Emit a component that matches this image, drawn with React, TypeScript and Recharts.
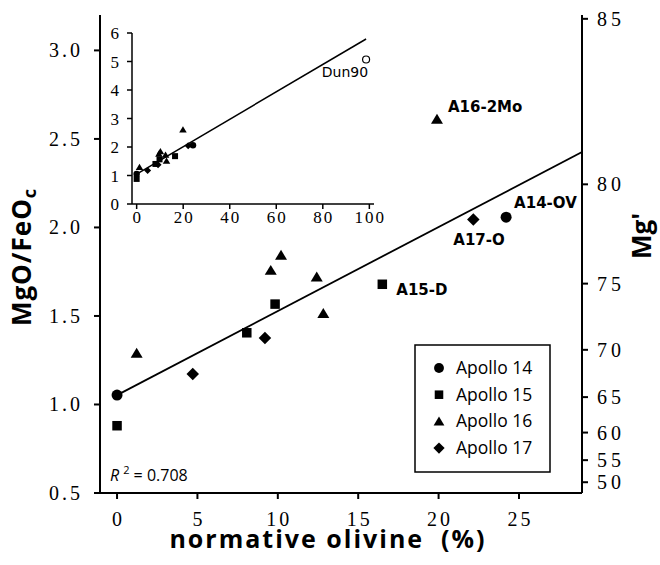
import { ScatterChart, Scatter, XAxis, YAxis } from 'recharts'

// normative olivine (%) vs MgO/FeOc
const apollo14 = [
  { x: 0, y: 1.053 },
  { x: 24.2, y: 2.058, name: 'A14-OV' },
]
const apollo15 = [
  { x: 0, y: 0.88 },
  { x: 8.07, y: 1.405 },
  { x: 9.83, y: 1.567 },
  { x: 16.5, y: 1.679, name: 'A15-D' },
]
const apollo16 = [
  { x: 1.22, y: 1.29 },
  { x: 9.56, y: 1.758 },
  { x: 10.2, y: 1.843 },
  { x: 12.42, y: 1.721 },
  { x: 12.83, y: 1.514 },
  { x: 19.9, y: 2.611, name: 'A16-2Mo' },
]
const apollo17 = [
  { x: 4.71, y: 1.172 },
  { x: 9.2, y: 1.376 },
  { x: 22.16, y: 2.045, name: 'A17-O' },
]
const dunite = [{ x: 98.6, y: 5.07, name: 'Dun90' }]

const fitMain = [
  { x: 0, y: 1.053 },
  { x: 28.92, y: 2.426 },
]
const fitInset = [
  { x: 0, y: 1.05 },
  { x: 98.6, y: 5.79 },
]

const xTicks = [0, 5, 10, 15, 20, 25]
const yTicks = [0.5, 1.0, 1.5, 2.0, 2.5, 3.0]
const mgTicks = [50, 55, 60, 65, 70, 75, 80, 85]
const insetXTicks = [0, 20, 40, 60, 80, 100]
const insetYTicks = [0, 1, 2, 3, 4, 5, 6]

const legendItems = [
  { kind: 'circle', label: 'Apollo 14' },
  { kind: 'square', label: 'Apollo 15' },
  { kind: 'triangle', label: 'Apollo 16' },
  { kind: 'diamond', label: 'Apollo 17' },
]

// Mg' = molar 100*Mg/(Mg+Fe); MgO/FeO ratio that gives it
const MOLAR = 40.3 / 71.85
const mgToRatio = (m: number) => (m / (100 - m)) * MOLAR
const ratioToMg = (r: number) => Math.round((100 * r) / (r + MOLAR))

const black = '#000'
const serif = 'Liberation Serif'
const sansBold = 'DejaVu Sans'
const titleFont = 'Open Sans'

const labelOffset: Record<string, [number, number, string]> = {
  'A16-2Mo': [11, -7, 'start'],
  'A14-OV': [8, -9, 'start'],
  'A17-O': [-20, 26, 'start'],
  'A15-D': [14, 11, 'start'],
  Dun90: [2, 17, 'end'],
}

function marker(kind: string, s: number, cx: number, cy: number) {
  switch (kind) {
    case 'circle':
      return <circle cx={cx} cy={cy} r={s / 2} fill={black} />
    case 'square':
      return <rect x={cx - s / 2} y={cy - s / 2} width={s} height={s} fill={black} />
    case 'triangle':
      return (
        <polygon
          points={`${cx},${cy - s * 0.45} ${cx - s / 2},${cy + s * 0.38} ${cx + s / 2},${cy + s * 0.38}`}
          fill={black}
        />
      )
    case 'diamond':
      return (
        <polygon
          points={`${cx},${cy - s / 2} ${cx + s / 2},${cy} ${cx},${cy + s / 2} ${cx - s / 2},${cy}`}
          fill={black}
        />
      )
    default:
      return (
        <circle cx={cx} cy={cy} r={s / 2} fill="#fff" stroke={black} strokeWidth={1.2} />
      )
  }
}

const mainSize: Record<string, number> = { circle: 11, square: 9.5, triangle: 12, diamond: 12.5 }
const insetSize: Record<string, number> = { circle: 6.5, square: 6, triangle: 7.5, diamond: 7, open: 7 }

const makeShape = (kind: string, sizes: Record<string, number>, withLabel: boolean) => (p: any) => {
  const cx = p.cx as number
  const cy = p.cy as number
  const name = p.payload?.name as string | undefined
  const off = name ? labelOffset[name] : undefined
  const isInset = kind === 'open'
  return (
    <g>
      {marker(kind, sizes[kind], cx, cy)}
      {withLabel && off && (
        <text
          x={cx + off[0]}
          y={cy + off[1]}
          textAnchor={off[2] as any}
          fontFamily={sansBold}
          fontWeight={isInset ? 'normal' : 'bold'}
          fontSize={isInset ? 14 : 15}
          fill={black}
        >
          {name}
        </text>
      )}
    </g>
  )
}

const noDot = () => <g />

const axisStroke = { stroke: black, strokeWidth: 2 }
const insetStroke = { stroke: black, strokeWidth: 1.5 }

const XTick = (p: any) => (
  <text x={p.x + 1.5} y={p.y + 25} textAnchor="middle" fontFamily={serif} fontSize={20} letterSpacing={3} fill={black}>
    {p.payload.value}
  </text>
)
const YTick = (p: any) => (
  <text x={p.x - 9} y={p.y + 7} textAnchor="end" fontFamily={serif} fontSize={20} letterSpacing={3} fill={black}>
    {Number(p.payload.value).toFixed(1)}
  </text>
)
const MgTick = (p: any) => (
  <text x={p.x + 7} y={p.y + 7} textAnchor="start" fontFamily={serif} fontSize={20} letterSpacing={4} fill={black}>
    {ratioToMg(p.payload.value)}
  </text>
)
const InsetXTick = (p: any) => (
  <text x={p.x + 1} y={p.y + 12} textAnchor="middle" fontFamily={serif} fontSize={17} letterSpacing={2} fill={black}>
    {p.payload.value}
  </text>
)
const InsetYTick = (p: any) => (
  <text x={p.x - 6} y={p.y + 6} textAnchor="end" fontFamily={serif} fontSize={17} fill={black}>
    {p.payload.value}
  </text>
)

function Legend() {
  return (
    <svg width={137} height={129} style={{ position: 'absolute', left: 414, top: 344 }}>
      <rect x={1} y={1} width={135} height={127} fill="#fff" stroke={black} strokeWidth={1.5} />
      {legendItems.map((it, i) => (
        <g key={it.label}>
          {marker(it.kind, mainSize[it.kind] * 0.9, 25, 24 + i * 26.7)}
          <text x={42} y={24 + i * 26.7 + 6} fontFamily={titleFont} fontSize={17.5} fill={black}>
            {it.label}
          </text>
        </g>
      ))}
    </svg>
  )
}

function Inset() {
  return (
    <div style={{ position: 'absolute', left: 102, top: 25 }}>
      <ScatterChart width={300} height={204} margin={{ top: 8, right: 28, bottom: 0, left: 0 }}>
        <XAxis
          xAxisId="ix"
          type="number"
          dataKey="x"
          domain={[-2, 102]}
          allowDataOverflow
          ticks={insetXTicks}
          interval={0}
          height={25}
          tickSize={5}
          axisLine={insetStroke}
          tickLine={insetStroke}
          tick={InsetXTick}
        />
        <XAxis
          xAxisId="itop"
          orientation="top"
          type="number"
          domain={[-2, 102]}
          allowDataOverflow
          height={0}
          tick={false}
          tickLine={false}
          axisLine={insetStroke}
        />
        <YAxis
          yAxisId="iy"
          type="number"
          dataKey="y"
          domain={[0, 6]}
          allowDataOverflow
          ticks={insetYTicks}
          interval={0}
          width={30}
          tickSize={5}
          axisLine={insetStroke}
          tickLine={insetStroke}
          tick={InsetYTick}
        />
        <YAxis
          yAxisId="iright"
          orientation="right"
          type="number"
          domain={[0, 6]}
          allowDataOverflow
          width={0}
          tick={false}
          tickLine={false}
          axisLine={insetStroke}
        />
        <Scatter xAxisId="ix" yAxisId="iy" data={fitInset} line={{ stroke: black, strokeWidth: 1.5 }} shape={noDot} isAnimationActive={false} />
        <Scatter xAxisId="ix" yAxisId="iy" data={apollo14} shape={makeShape('circle', insetSize, false)} isAnimationActive={false} />
        <Scatter xAxisId="ix" yAxisId="iy" data={apollo15} shape={makeShape('square', insetSize, false)} isAnimationActive={false} />
        <Scatter xAxisId="ix" yAxisId="iy" data={apollo16} shape={makeShape('triangle', insetSize, false)} isAnimationActive={false} />
        <Scatter xAxisId="ix" yAxisId="iy" data={apollo17} shape={makeShape('diamond', insetSize, false)} isAnimationActive={false} />
        <Scatter xAxisId="ix" yAxisId="iy" data={dunite} shape={makeShape('open', insetSize, true)} isAnimationActive={false} />
      </ScatterChart>
    </div>
  )
}

export default function App() {
  return (
    <div style={{ position: 'absolute', left: 0, top: 0, width: 660, height: 565, background: '#fff' }}>
      <ScatterChart width={660} height={565} margin={{ top: 15, right: 20, bottom: 42, left: 40 }}>
        <XAxis
          type="number"
          dataKey="x"
          domain={[-1.06, 28.92]}
          allowDataOverflow
          ticks={xTicks}
          interval={0}
          height={30}
          tickSize={6}
          axisLine={axisStroke}
          tickLine={axisStroke}
          tick={XTick}
        />
        <XAxis
          xAxisId="top"
          orientation="top"
          type="number"
          domain={[-1.06, 28.92]}
          allowDataOverflow
          height={0}
          tick={false}
          tickLine={false}
          axisLine={axisStroke}
        />
        <YAxis
          yAxisId="left"
          type="number"
          dataKey="y"
          domain={[0.5, 3.2]}
          allowDataOverflow
          ticks={yTicks}
          interval={0}
          width={60}
          tickSize={6}
          axisLine={axisStroke}
          tickLine={axisStroke}
          tick={YTick}
        />
        <YAxis
          yAxisId="mg"
          orientation="right"
          type="number"
          domain={[0.5, 3.2]}
          allowDataOverflow
          ticks={mgTicks.map(mgToRatio)}
          interval={0}
          width={58}
          tickSize={6}
          axisLine={axisStroke}
          tickLine={axisStroke}
          tick={MgTick}
        />
        <Scatter yAxisId="left" data={fitMain} line={{ stroke: black, strokeWidth: 1.8 }} shape={noDot} isAnimationActive={false} />
        <Scatter yAxisId="left" data={apollo14} shape={makeShape('circle', mainSize, true)} isAnimationActive={false} />
        <Scatter yAxisId="left" data={apollo15} shape={makeShape('square', mainSize, true)} isAnimationActive={false} />
        <Scatter yAxisId="left" data={apollo16} shape={makeShape('triangle', mainSize, true)} isAnimationActive={false} />
        <Scatter yAxisId="left" data={apollo17} shape={makeShape('diamond', mainSize, true)} isAnimationActive={false} />
      </ScatterChart>

      <Inset />
      <Legend />

      <svg width={660} height={565} style={{ position: 'absolute', left: 0, top: 0, pointerEvents: 'none' }}>
        <text
          x={328}
          y={548}
          textAnchor="middle"
          fontFamily={titleFont}
          fontWeight="bold"
          fontSize={25}
          letterSpacing={2}
          fill={black}
        >
          normative olivine{'\u00a0\u00a0'}(%)
        </text>
        <text
          transform="translate(31,257) rotate(-90)"
          textAnchor="middle"
          fontFamily={titleFont}
          fontWeight="bold"
          fontSize={26}
          letterSpacing={1}
          fill={black}
        >
          MgO/FeO
          <tspan fontSize={18} dy={5}>c</tspan>
        </text>
        <text
          transform="translate(651,236) rotate(-90)"
          textAnchor="middle"
          fontFamily={titleFont}
          fontWeight="bold"
          fontSize={26}
          fill={black}
        >
          Mg'
        </text>
        <text x={110} y={481} fontFamily={titleFont} fontSize={16} fill={black}>
          <tspan fontStyle="italic">R</tspan>
          <tspan fontSize={11} dx={4} dy={-7}>2</tspan>
          <tspan dy={7}>{'\u00a0'}= 0.708</tspan>
        </text>
      </svg>
    </div>
  )
}
